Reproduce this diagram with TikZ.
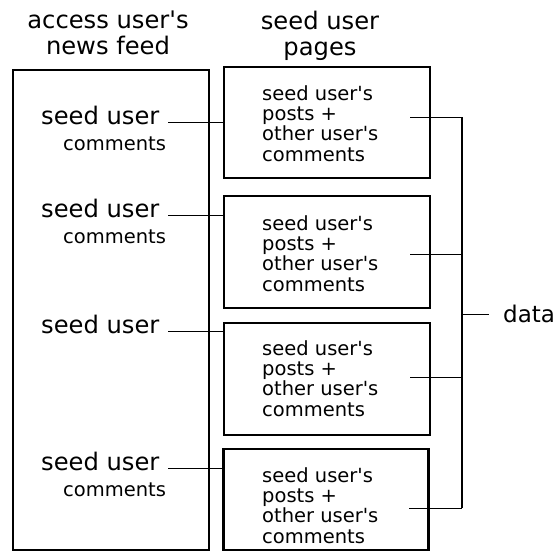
\documentclass[tikz,border=0pt]{standalone}
\usepackage{fontspec}
\setmainfont{DejaVu Sans}[Ligatures=TeXOff]
\usetikzlibrary{calc}
\tikzset{
  box/.style={draw=black, line width=2.2pt, inner sep=0pt, rectangle},
  header/.style={inner sep=0pt, align=center, font=\fontsize{24.2}{26}\selectfont},
  seed/.style={inner sep=0pt, anchor=base west, font=\fontsize{24.2}{26}\selectfont},
  cmt/.style={inner sep=0pt, anchor=base west, font=\fontsize{19.5}{20.3}\selectfont},
  boxtext/.style={inner sep=0pt, anchor=north west, align=left, font=\fontsize{19.5}{20.3}\selectfont},
  conn/.style={draw=black, line width=1pt},
  busline/.style={draw=black, line width=1.3pt},
}
\begin{document}
\begin{tikzpicture}[x=1pt, y=-1pt]
\useasboundingbox (0,0) rectangle (558,558);
% headers
\node[header, anchor=north] (h1) at (108,10.5) {access user's\\news feed};
\node[header, anchor=north] (h2) at (320,10.5) {seed user\\pages};
% left box
\node[box, minimum width=196pt, minimum height=480pt] (feed) at (111,310) {};
% right boxes
\node[box, minimum width=206pt, minimum height=111pt] (b1) at (327,122.5) {};
\node[box, minimum width=206pt, minimum height=112pt] (b2) at (327,252) {};
\node[box, minimum width=206pt, minimum height=112pt] (b3) at (327,379) {};
\node[box, minimum width=205pt, minimum height=101pt] (b4) at (326,499.5) {};
% box texts
\node[boxtext] (t1) at (262,85.2) {seed user's\\posts +\\other user's\\comments};
\node[boxtext] (t2) at (262,215.2) {seed user's\\posts +\\other user's\\comments};
\node[boxtext] (t3) at (262,340.2) {seed user's\\posts +\\other user's\\comments};
\node[boxtext] (t4) at (262,467.2) {seed user's\\posts +\\other user's\\comments};
% left entries
\node[seed] (s1) at (41,124) {seed user};
\node[cmt] (c1) at (63,150) {comments};
\node[seed] (s2) at (41,217) {seed user};
\node[cmt] (c2) at (63,243) {comments};
\node[seed] (s3) at (41,333) {seed user};
\node[seed] (s4) at (41,470) {seed user};
\node[cmt] (c4) at (63,496) {comments};
% left connectors
\coordinate (l1) at (168,122);
\coordinate (l2) at (168,215);
\coordinate (l3) at (168,331);
\coordinate (l4) at (168,468);
\draw[conn] (l1) -- (l1 -| b1.west);
\draw[conn] (l2) -- (l2 -| b2.west);
\draw[conn] (l3) -- (l3 -| b3.west);
\draw[conn] (l4) -- (l4 -| b4.west);
% right connectors
\coordinate (bus) at (462,0);
\coordinate (r1) at (410,117);
\coordinate (r2) at (410,254);
\coordinate (r3) at (410,377);
\coordinate (r4) at (409,508);
\draw[conn] (r1) -- (r1 -| bus);
\draw[conn] (r2) -- (r2 -| bus);
\draw[conn] (r3) -- (r3 -| bus);
\draw[conn] (r4) -- (r4 -| bus);
\draw[busline] (r1 -| bus) -- (r4 -| bus);
% data
\node[seed, font=\fontsize{23}{26}\selectfont] (data) at (503,322) {data};
\coordinate (dl) at (489,314);
\draw[conn] (dl -| bus) -- (dl);
\end{tikzpicture}
\end{document}
